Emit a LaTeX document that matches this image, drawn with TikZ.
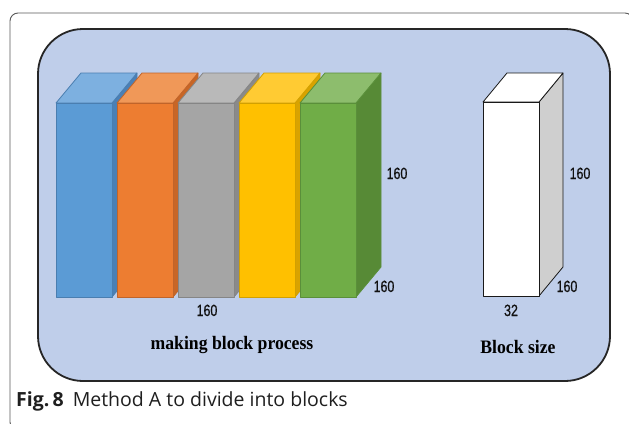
\documentclass[tikz,border=0pt]{standalone}
\usepackage{fontspec}
\setmainfont{Liberation Serif}
\newfontfamily\arialfont[FakeBold=0.6]{Liberation Sans}
\newfontfamily\capfont{Open Sans}
\usepackage{graphicx}
\definecolor{panel}{HTML}{BFCEEA}
\definecolor{bluef}{HTML}{5B9BD5}\definecolor{bluet}{HTML}{7DB0E0}\definecolor{blues}{HTML}{4A80B6}\definecolor{blueb}{HTML}{4A7EB0}
\definecolor{orf}{HTML}{ED7D31}\definecolor{ort}{HTML}{F09858}\definecolor{ors}{HTML}{C86626}\definecolor{orb}{HTML}{C0642A}
\definecolor{grf}{HTML}{A5A5A5}\definecolor{grt}{HTML}{B9B9B9}\definecolor{grs}{HTML}{8A8A8A}\definecolor{grb}{HTML}{858585}
\definecolor{yef}{HTML}{FFC000}\definecolor{yet}{HTML}{FFCB33}\definecolor{yes}{HTML}{D9A300}\definecolor{yeb}{HTML}{D2A000}
\definecolor{gnf}{HTML}{70AD47}\definecolor{gnt}{HTML}{8DBD6D}\definecolor{gns}{HTML}{578A36}\definecolor{gnb}{HTML}{5A8F3A}
\definecolor{labtext}{HTML}{111111}
\newcommand\dimtxt[1]{\scalebox{0.8}[1.05]{\arialfont\fontsize{15.5}{15.5}\selectfont #1}}
\newcommand\captxt[1]{\scalebox{0.93}[1]{\bfseries\fontsize{19}{19}\selectfont #1}}
\tikzset{
  dimlab/.style={inner sep=0pt, anchor=base, text=labtext},
  titlelab/.style={inner sep=0pt, anchor=base, text=black},
  face/.style={line width=0.8pt, line join=round}
}
\begin{document}
\begin{tikzpicture}[x=1pt,y=-1pt]
\useasboundingbox (0,0) rectangle (629,423);
\fill[white] (0,0) rectangle (629,423);
% outer frame
\begin{scope}
\clip (0,0) rectangle (629,423);
\draw[line width=0.9pt, draw=black!65, rounded corners=8pt] (10,13) rectangle (633,430);
\end{scope}
% inner panel
\draw[line width=1.8pt, draw=black!85, fill=panel, rounded corners=45pt] (38,29) rectangle (610,381);
% coloured blocks
\foreach \x/\f/\t/\s/\b in {56/bluef/bluet/blues/blueb, 117/orf/ort/ors/orb, 178/grf/grt/grs/grb, 239/yef/yet/yes/yeb, 300/gnf/gnt/gns/gnb}{
  \filldraw[face, fill=\s, draw=\b] (\x+56,103) -- (\x+81,73) -- (\x+81,267) -- (\x+56,297) -- cycle;
  \filldraw[face, fill=\t, draw=\b] (\x,103) -- (\x+25,73) -- (\x+81,73) -- (\x+56,103) -- cycle;
  \filldraw[face, fill=\f, draw=\b] (\x,103) rectangle (\x+56,297);
}
% white block
\filldraw[face, fill=black!19, draw=black!90] (539,102) -- (563,73) -- (563,267) -- (539,296) -- cycle;
\filldraw[face, fill=white, draw=black!90] (483,102) -- (507,73) -- (563,73) -- (539,102) -- cycle;
\filldraw[face, fill=white, draw=black!90] (483,102) rectangle (539,296);
% dimension labels
\node[dimlab] (h1) at (397,179) {\dimtxt{160}};
\node[dimlab] (d1) at (384,292) {\dimtxt{160}};
\node[dimlab] (w1) at (207,316) {\dimtxt{160}};
\node[dimlab] (h2) at (580,179) {\dimtxt{160}};
\node[dimlab] (d2) at (567,292) {\dimtxt{160}};
\node[dimlab] (w2) at (511,316) {\dimtxt{32}};
% titles
\node[titlelab] (t1) at (232,349) {\captxt{making block process}};
\node[titlelab] (t2) at (518,353) {\captxt{Block size}};
% caption
\node[inner sep=0pt, anchor=base west, text=black!88] (cap) at (16,406)
  {\capfont\fontsize{19.5}{19.5}\selectfont\textbf{Fig.\,8}\hspace{9pt}Method A to divide into blocks};
\end{tikzpicture}
\end{document}
